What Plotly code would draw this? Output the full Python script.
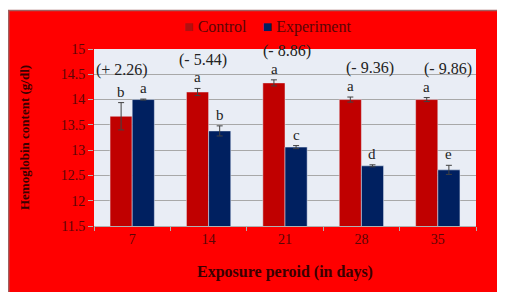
import plotly.graph_objects as go

days = ["7", "14", "21", "28", "35"]
control = [13.67, 14.15, 14.33, 14.00, 14.00]
control_err = [0.27, 0.07, 0.06, 0.05, 0.04]
experiment = [14.00, 13.38, 13.06, 12.69, 12.61]
experiment_err = [0.01, 0.10, 0.03, 0.02, 0.09]
control_letters = ["b", "a", "a", "a", "a"]
experiment_letters = ["a", "b", "c", "d", "e"]
change_labels = ["(+ 2.26)", "(- 5.44)", "(- 8.86)", "(- 9.36)", "(- 9.86)"]

Y_MIN, Y_MAX = 11.5, 15

# page body has an 8px margin; figure coords = screen coords - 8
OFF = 8
W, H = 505, 292
L, R, T = 94 - OFF, 505 - 476 + OFF, 49 - OFF
B = H - (226 - OFF)
pw, ph = W - L - R, H - T - B
def px(sx):
    return (sx - OFF - L) / pw
def py(sy):
    return (H - B - (sy - OFF)) / ph

SERIF = "Liberation Serif, Times New Roman, serif"
RED = "#c00000"
NAVY = "#002060"
TXT = "#5a0606"

fig = go.Figure()
fig.add_trace(go.Bar(
    name="Control", x=days, y=control, marker_color=RED, showlegend=False,
    error_y=dict(type="data", array=control_err, color="#404040", thickness=1, width=3),
))
fig.add_trace(go.Bar(
    name="Experiment", x=days, y=experiment, marker_color=NAVY, showlegend=False,
    error_y=dict(type="data", array=experiment_err, color="#404040", thickness=1, width=3),
))

annotations = []
for i, d in enumerate(days):
    annotations.append(dict(x=i, y=control[i] + control_err[i], text=control_letters[i],
                            xref="x", yref="y", showarrow=False, xshift=-11, yshift=1,
                            yanchor="bottom", font=dict(family=SERIF, size=15, color="#222")))
    annotations.append(dict(x=i, y=experiment[i] + experiment_err[i], text=experiment_letters[i],
                            xref="x", yref="y", showarrow=False, xshift=11, yshift=1,
                            yanchor="bottom", font=dict(family=SERIF, size=15, color="#222")))
label_xshift = [-10, -6, 2, 9, 10]
n = len(days)
for i, d in enumerate(days):
    top = max(control[i] + control_err[i], experiment[i] + experiment_err[i]) + 0.57
    annotations.append(dict(x=(i + 0.5) / n, y=(top - Y_MIN) / (Y_MAX - Y_MIN), text=change_labels[i],
                            xref="paper", yref="paper", showarrow=False, xshift=label_xshift[i],
                            xanchor="center", yanchor="middle",
                            font=dict(family=SERIF, size=16, color="#222")))

# legend drawn as text (Excel-style compact legend)
legend_text = ("<span style='color:%s'>■</span>&nbsp;Control&nbsp;&nbsp;&nbsp;&nbsp;"
               "<span style='color:%s'>■</span>&nbsp;Experiment") % ("#b01010", NAVY)
annotations.append(dict(x=px(267), y=py(27), xref="paper", yref="paper", showarrow=False,
                        text=legend_text, xanchor="center", yanchor="middle",
                        font=dict(family=SERIF, size=16, color=TXT)))

fig.update_layout(
    width=W, height=H,
    margin=dict(l=L, r=R, t=T, b=B, pad=0, autoexpand=False),
    paper_bgcolor="#ff0000",
    plot_bgcolor="#e9edf5",
    barmode="group", bargap=0.42, bargroupgap=0,
    showlegend=False,
    font=dict(family=SERIF),
    annotations=annotations,
    shapes=[
        dict(type="rect", xref="paper", yref="paper", x0=px(0), x1=px(530), y0=py(10), y1=py(0),
             fillcolor="white", line=dict(width=0), layer="above"),
        dict(type="line", xref="paper", yref="paper", x0=px(8), x1=px(530), y0=py(10.5), y1=py(10.5),
             line=dict(color="#a06060", width=1.5), layer="above"),
        dict(type="line", xref="paper", yref="paper", x0=px(8.7), x1=px(8.7), y0=py(10), y1=py(310),
             line=dict(color="#a06060", width=1.5), layer="above"),
    ],
    xaxis=dict(type="category", range=[-0.5, 4.5], tickson="boundaries", ticks="outside", ticklen=4,
               tickcolor="#b0b0b0", showline=True, linecolor="#b0b0b0",
               tickfont=dict(family=SERIF, size=14, color=TXT),
               title=dict(text="<b>Exposure peroid (in days)</b>", standoff=20,
                          font=dict(family=SERIF, size=16, color="#3a0000"))),
    yaxis=dict(range=[Y_MIN, Y_MAX], tickvals=[11.5, 12, 12.5, 13, 13.5, 14, 14.5, 15],
               ticktext=["11.5", "12", "12.5", "13", "13.5", "14", "14.5", "15"],
               showgrid=True, gridcolor="#a8a8a8", gridwidth=1,
               ticks="outside", ticklen=5, tickcolor="#b0b0b0", showline=False, zeroline=False,
               tickfont=dict(family=SERIF, size=14, color=TXT),
               title=dict(text="<b>Hemoglobin content (g/dl)</b>", standoff=28,
                          font=dict(family=SERIF, size=13, color="#3a0000"))),
)

fig.write_html("out.html")
